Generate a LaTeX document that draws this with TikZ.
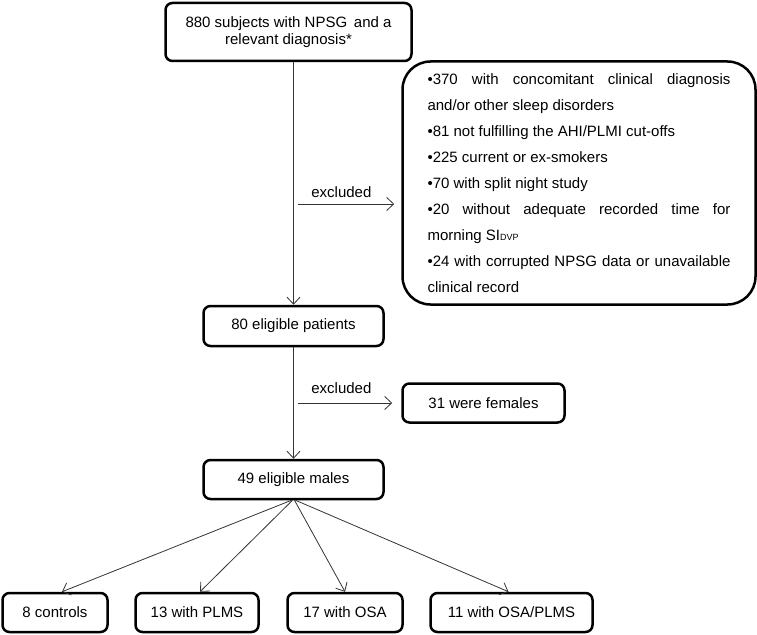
\documentclass[tikz,border=0pt]{standalone}
\usepackage{fontspec}
\setmainfont{Liberation Sans}
\usetikzlibrary{arrows.meta}

\begin{document}
\begin{tikzpicture}[x=1pt, y=-1pt,
	box/.style={draw, line width=2.5pt, rounded corners=7pt, align=center, inner sep=0pt, font=\fontsize{15}{17}\selectfont},
	arr/.style={line width=0.8pt, draw=black!80, -{Straight Barb[length=7pt, width=13pt]}},
	lbl/.style={font=\fontsize{15}{17}\selectfont}]
	\useasboundingbox (0,0) rectangle (757,634);

	% top of the flow
	\node [box, minimum width=246pt, minimum height=58pt] (subj) at (288.5,32) {880 subjects with NPSG\, and a\\relevant diagnosis*};

	% exclusion criteria
	\node [box, rounded corners=28pt, minimum width=353pt, minimum height=243pt] (crit) at (579,183) {\parbox{303pt}{\fontsize{15}{26}\selectfont\hyphenpenalty=10000
		\textbullet370 with concomitant clinical diagnosis\linebreak and/or other sleep disorders\par
		\textbullet81 not fulfilling the AHI/PLMI cut-offs\par
		\textbullet225 current or ex-smokers\par
		\textbullet70 with split night study\par
		\textbullet20 without adequate recorded time for\linebreak morning SI{\fontsize{9}{10}\selectfont DVP}\par
		\textbullet24 with corrupted NPSG data or unavailable\linebreak clinical record}};

	\node [box, minimum width=180pt, minimum height=40pt] (elig) at (293.5,326) {80 eligible patients};
	\node [box, minimum width=162pt, minimum height=39pt] (fem) at (483.5,403) {31 were females};
	\node [box, minimum width=180pt, minimum height=39pt] (males) at (293.5,479.5) {49 eligible males};

	% the four groups
	\node [box, minimum width=105pt, minimum height=39pt] (ctrl) at (55,612.5) {8 controls};
	\node [box, minimum width=123pt, minimum height=39pt] (plms) at (197,612.5) {13 with PLMS};
	\node [box, minimum width=115pt, minimum height=39pt] (osa) at (345,612.5) {17 with OSA};
	\node [box, minimum width=162pt, minimum height=39pt] (osaplms) at (511.5,612.5) {11 with OSA/PLMS};

	% main line
	\draw [arr] (elig.north |- subj.south) -- (elig.north);
	\draw [arr] (elig.south) -- (males.north);

	% excluded
	\coordinate (ex1) at (298,204);
	\draw [arr, shorten >=7pt] (ex1) -- (ex1 -| crit.west) node [lbl, pos=0.42, above=3pt] {excluded};
	\coordinate (ex2) at (298,403);
	\draw [arr, shorten >=9pt] (ex2) -- (fem.west) node [lbl, pos=0.42, above=6pt] {excluded};

	% fan to the groups
	\draw [arr] ([xshift=-2pt]males.south) -- ([xshift=7pt]ctrl.north);
	\draw [arr] ([xshift=-1pt]males.south) -- ([xshift=3pt]plms.north);
	\draw [arr] ([xshift=1pt]males.south) -- (osa.north);
	\draw [arr] ([xshift=2pt]males.south) -- ([xshift=-3pt]osaplms.north);
\end{tikzpicture}
\end{document}
